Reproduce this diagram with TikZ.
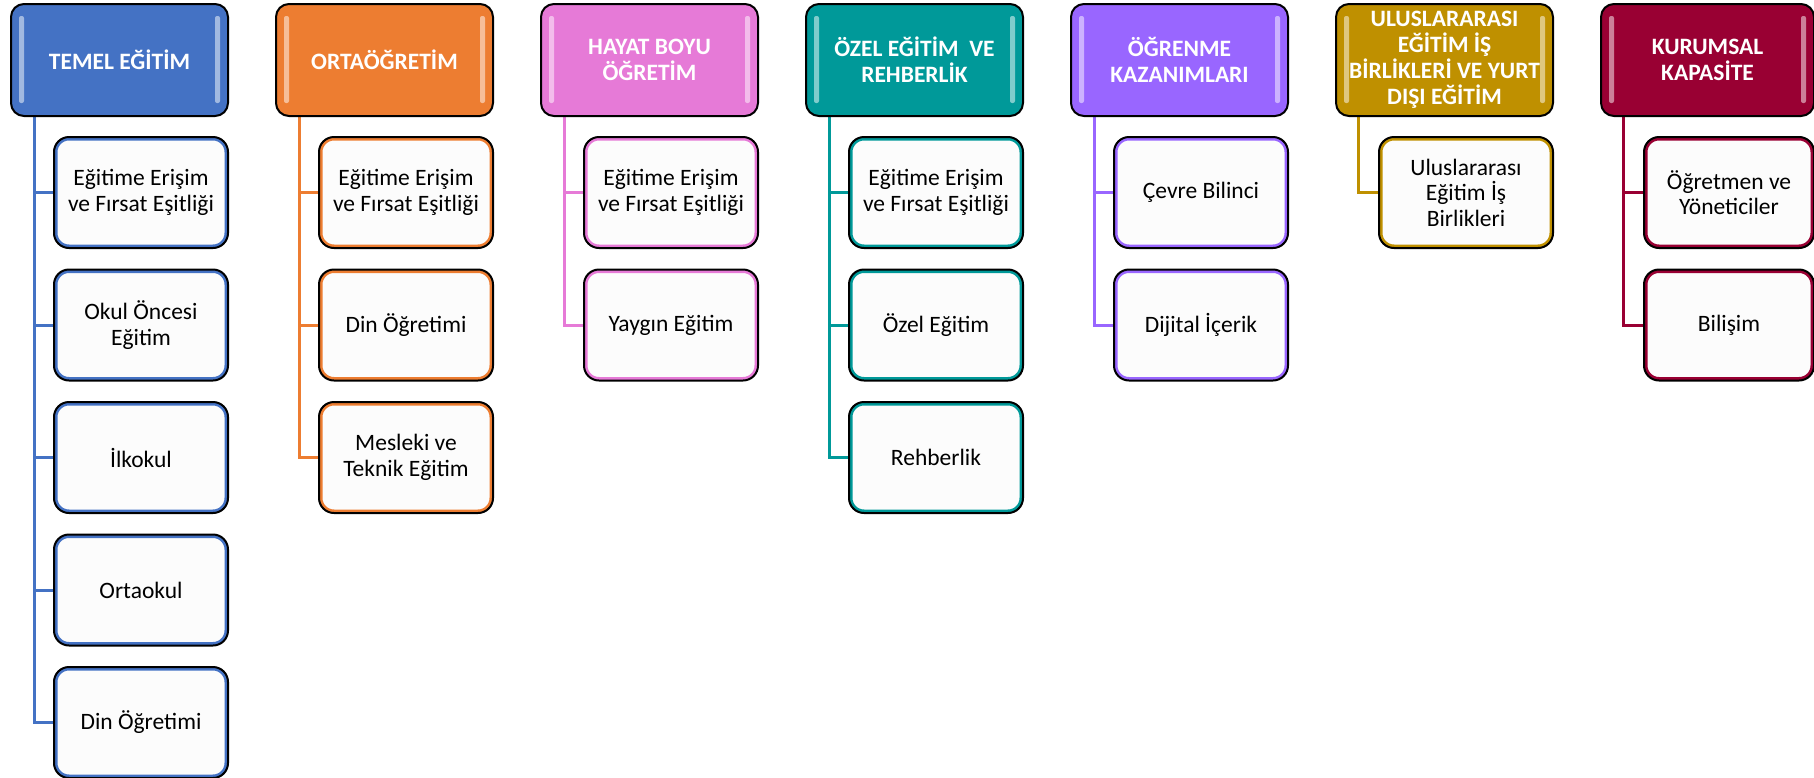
\documentclass[tikz,border=0pt]{standalone}
\usepackage{fontspec}
\setmainfont{Carlito}
\usetikzlibrary{backgrounds}
\definecolor{cblue}{HTML}{4472C4}
\definecolor{corange}{HTML}{ED7D31}
\definecolor{cpink}{HTML}{E67AD7}
\definecolor{cteal}{HTML}{009999}
\definecolor{cpurple}{HTML}{9966FF}
\definecolor{cgold}{HTML}{BF9000}
\definecolor{cmaroon}{HTML}{990033}
\definecolor{childfill}{HTML}{FCFCFC}
\tikzset{
  hdr/.style={draw=black, line width=2pt, rounded corners=13pt, fill=#1,
    minimum width=217pt, minimum height=112pt, anchor=north west, inner sep=0pt,
    align=center, text=white, font=\fontsize{23.5}{26}\selectfont\bfseries,
    path picture={
      \fill[#1!50!white, rounded corners=2pt] ([xshift=8pt,yshift=-12pt]path picture bounding box.north west) rectangle ([xshift=13pt,yshift=13pt]path picture bounding box.south west);
      \fill[#1!50!white, rounded corners=2pt] ([xshift=-8pt,yshift=-12pt]path picture bounding box.north east) rectangle ([xshift=-13pt,yshift=13pt]path picture bounding box.south east);
    }},
  kid/.style={draw=black, line width=2pt, rounded corners=15pt, fill=childfill,
    minimum width=174pt, minimum height=111pt, anchor=north west, inner sep=0pt,
    align=center, text=black, font=\fontsize{23.5}{25.5}\selectfont,
    path picture={\draw[#1, line width=7pt, rounded corners=15pt] (path picture bounding box.south west) rectangle (path picture bounding box.north east);}},
  conn/.style={draw=#1, line width=3pt},
}
\begin{document}
\begin{tikzpicture}[x=1pt, y=-1pt]
\useasboundingbox (0,0) rectangle (1814,777);
% headers
\node[hdr=cblue] (h1) at (10,3) {TEMEL EĞİTİM};
\node[hdr=corange] (h2) at (275,3) {ORTAÖĞRETİM};
\node[hdr=cpink] (h3) at (540,3) {HAYAT BOYU\\ÖĞRETİM};
\node[hdr=cteal] (h4) at (805,3) {ÖZEL EĞİTİM\ \ VE\\REHBERLİK};
\node[hdr=cpurple] (h5) at (1070,3) {ÖĞRENME\\KAZANIMLARI};
\node[hdr=cgold] (h6) at (1335,3) {ULUSLARARASI\\EĞİTİM İŞ\\BİRLİKLERİ VE YURT\\DIŞI EĞİTİM};
\node[hdr=cmaroon, minimum width=213pt] (h7) at (1600,3) {KURUMSAL\\KAPASİTE};
% column 1
\node[kid=cblue] (a1) at (53,136) {Eğitime Erişim\\ve Fırsat Eşitliği};
\node[kid=cblue] (a2) at (53,268.5) {Okul Öncesi\\Eğitim};
\node[kid=cblue] (a3) at (53,401) {İlkokul};
\node[kid=cblue] (a4) at (53,533.5) {Ortaokul};
\node[kid=cblue] (a5) at (53,666) {Din Öğretimi};
% column 2
\node[kid=corange] (b1) at (318,136) {Eğitime Erişim\\ve Fırsat Eşitliği};
\node[kid=corange] (b2) at (318,268.5) {Din Öğretimi};
\node[kid=corange] (b3) at (318,401) {Mesleki ve\\Teknik Eğitim};
% column 3
\node[kid=cpink] (c1) at (583,136) {Eğitime Erişim\\ve Fırsat Eşitliği};
\node[kid=cpink] (c2) at (583,268.5) {Yaygın Eğitim};
% column 4
\node[kid=cteal] (d1) at (848,136) {Eğitime Erişim\\ve Fırsat Eşitliği};
\node[kid=cteal] (d2) at (848,268.5) {Özel Eğitim};
\node[kid=cteal] (d3) at (848,401) {Rehberlik};
% column 5
\node[kid=cpurple] (e1) at (1113,136) {Çevre Bilinci};
\node[kid=cpurple] (e2) at (1113,268.5) {Dijital İçerik};
% column 6
\node[kid=cgold] (f1) at (1378,136) {Uluslararası\\Eğitim İş\\Birlikleri};
% column 7
\node[kid=cmaroon, minimum width=170pt] (g1) at (1643,136) {Öğretmen ve\\Yöneticiler};
\node[kid=cmaroon, minimum width=170pt] (g2) at (1643,268.5) {Bilişim};
% connectors
\begin{scope}[on background layer]
\foreach \k in {a1,a2,a3,a4,a5} \draw[conn=cblue] ([xshift=24pt]h1.south west) |- (\k.west);
\foreach \k in {b1,b2,b3} \draw[conn=corange] ([xshift=24pt]h2.south west) |- (\k.west);
\foreach \k in {c1,c2} \draw[conn=cpink] ([xshift=24pt]h3.south west) |- (\k.west);
\foreach \k in {d1,d2,d3} \draw[conn=cteal] ([xshift=24pt]h4.south west) |- (\k.west);
\foreach \k in {e1,e2} \draw[conn=cpurple] ([xshift=24pt]h5.south west) |- (\k.west);
\foreach \k in {f1} \draw[conn=cgold] ([xshift=23pt]h6.south west) |- (\k.west);
\foreach \k in {g1,g2} \draw[conn=cmaroon] ([xshift=23pt]h7.south west) |- (\k.west);
\end{scope}
\end{tikzpicture}
\end{document}
